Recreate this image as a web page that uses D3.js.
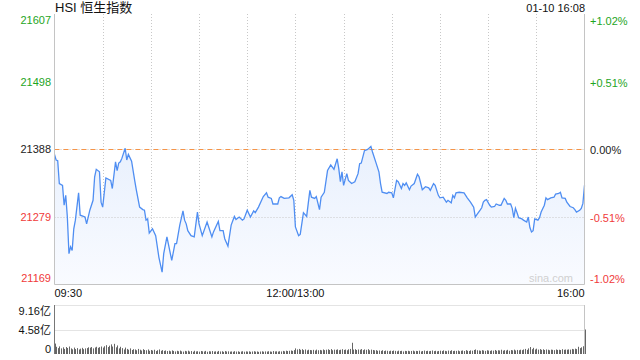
<!DOCTYPE html>
<html><head><meta charset="utf-8">
<script src="https://cdn.jsdelivr.net/npm/d3@7"></script>
<style>html,body{margin:0;padding:0;background:#fff;}svg{display:block;}</style>
</head><body><svg id="c" width="640" height="360"></svg>
<script>
const title = "HSI 恒生指数";
const stamp = "01-10 16:08";
const prevClose = 21388.34;
const priceTicks = ["21607","21498","21388","21279","21169"];
const pctTicks = ["+1.02%","+0.51%","0.00%","-0.51%","-1.02%"];
const pctSteps = [1.02, 0.51, 0, -0.51, -1.02];
const timeLabels = ["09:30","12:00/13:00","16:00"];
const timeLabelMinutes = [0, 150, 330];
const volTickLabels = ["9.16亿","4.58亿","0"];
const volTickValues = [9.16, 4.58, 0];
const minutes = [0,1,2,3,5,6,7,8,9,10,11,12,13,15,16,18,19,20,22,24,25,26,28,29,30,32,35,36,38,39,40,41,42,44,45,46,48,50,51,53,55,56,57,58,59,61,63,65,67,68,70,73,75,76,78,80,81,82,83,85,87,89,90,92,95,96,98,99,102,103,105,106,108,110,112,113,115,117,118,120,122,124,125,127,130,132,133,135,136,139,140,141,143,146,148,149,150,152,153,155,157,159,160,162,163,165,166,168,170,172,174,176,177,178,179,180,182,183,185,187,189,190,191,193,195,197,198,200,202,203,204,207,208,210,211,213,214,216,217,218,219,221,222,224,226,227,229,231,233,234,236,237,239,240,242,244,245,247,248,249,250,252,255,257,259,261,262,263,265,266,267,268,269,271,272,274,275,277,278,280,281,282,284,285,286,287,288,289,291,292,294,295,296,297,298,299,301,302,303,305,306,307,309,311,312,314,315,316,318,319,321,323,324,325,327,328,329,330];
const prices = [21380,21371,21370,21333,21330,21298,21314,21279,21220,21231,21225,21260,21274,21318,21282,21280,21279,21268,21290,21306,21344,21356,21352,21303,21295,21342,21338,21325,21368,21354,21366,21368,21374,21390,21371,21380,21369,21337,21322,21295,21291,21290,21274,21276,21253,21260,21249,21214,21190,21220,21247,21209,21236,21236,21266,21289,21274,21268,21257,21249,21247,21287,21268,21249,21271,21263,21247,21255,21272,21257,21257,21244,21232,21266,21280,21275,21279,21274,21276,21290,21279,21289,21286,21295,21312,21318,21311,21309,21300,21300,21310,21312,21309,21310,21315,21306,21263,21249,21251,21286,21280,21322,21311,21309,21312,21291,21311,21319,21354,21363,21356,21373,21357,21336,21352,21330,21349,21338,21333,21336,21349,21365,21366,21386,21388,21393,21384,21368,21352,21333,21319,21317,21319,21318,21310,21338,21336,21325,21333,21330,21334,21323,21329,21333,21348,21344,21323,21328,21326,21322,21333,21330,21314,21310,21311,21303,21306,21302,21314,21310,21318,21319,21318,21310,21303,21295,21279,21283,21290,21294,21303,21306,21307,21298,21295,21296,21300,21298,21298,21309,21306,21300,21300,21293,21278,21293,21286,21278,21276,21274,21271,21279,21262,21255,21257,21276,21274,21278,21287,21298,21310,21307,21310,21311,21316,21317,21319,21310,21309,21303,21296,21294,21291,21287,21290,21293,21301,21330];
const volumes = [1.95,1.35,1.10,1.42,1.05,1.25,0.95,1.30,1.12,1.40,
1.05,0.88,1.20,0.92,1.10,0.85,1.00,1.15,0.90,1.05,
1.10,1.25,1.18,1.30,1.05,1.22,1.35,1.15,1.28,1.40,
1.20,1.45,1.65,1.30,1.55,1.80,1.40,1.90,1.25,1.60,
1.05,1.35,1.10,0.85,1.20,0.95,0.80,1.05,0.75,0.90,
0.85,0.70,0.95,0.80,0.65,0.90,0.75,0.70,0.85,0.60,
0.75,0.65,0.80,0.55,0.70,0.85,0.60,0.72,0.58,0.66,
0.55,0.62,0.50,0.68,0.57,0.48,0.60,0.52,0.64,0.50,
0.45,0.58,0.50,0.62,0.47,0.55,0.42,0.60,0.48,0.52,
0.44,0.56,0.50,0.46,0.58,0.42,0.52,0.48,0.55,0.45,
0.50,0.43,0.57,0.47,0.52,0.40,0.55,0.46,0.50,0.44,
0.48,0.42,0.53,0.45,0.50,0.40,0.46,0.52,0.43,0.49,
0.45,0.50,0.41,0.47,0.52,0.44,0.48,0.40,0.46,0.51,
0.43,0.49,0.45,0.52,0.47,0.42,0.55,0.48,0.50,0.45,
0.52,0.47,0.58,0.50,0.62,0.55,0.60,0.66,0.58,0.72,
1.05,0.85,0.95,0.78,0.90,0.72,0.85,0.68,0.80,0.75,
0.70,0.78,0.65,0.82,0.70,0.76,0.68,0.85,0.72,0.80,
0.88,0.75,0.92,0.70,0.82,0.78,0.86,0.72,0.80,0.90,
0.76,0.84,0.70,0.88,0.95,2.10,0.82,0.90,0.75,0.85,
0.80,0.92,0.72,0.86,0.78,0.90,0.70,0.82,0.75,0.68,
0.72,0.60,0.66,0.58,0.70,0.55,0.64,0.60,0.52,0.62,
0.56,0.65,0.58,0.50,0.62,0.55,0.60,0.48,0.58,0.54,
0.60,0.52,0.57,0.63,0.50,0.58,0.55,0.62,0.48,0.56,
0.64,0.55,0.60,0.52,0.58,0.66,0.54,0.60,0.50,0.57,
0.62,0.55,0.68,0.58,0.52,0.64,0.57,0.70,0.55,0.60,
0.58,0.65,0.52,0.60,0.66,0.56,0.72,0.60,0.55,0.68,
0.62,0.75,0.85,0.70,0.66,0.60,0.72,0.65,0.58,0.70,
0.64,0.58,0.68,0.62,0.75,0.60,0.70,0.66,0.80,0.62,
0.72,0.65,0.78,0.60,0.74,0.68,0.82,0.66,0.76,0.70,
0.80,0.72,0.85,0.95,0.78,1.05,1.30,0.90,1.15,0.85,
1.00,0.82,0.92,0.78,0.88,0.75,0.85,0.80,0.70,0.82,
0.78,0.72,0.85,0.76,0.80,0.74,0.90,0.78,0.84,0.80,
0.86,0.82,0.95,0.88,1.00,0.92,1.35,1.10,1.25,1.45,
4.58];

const green = "#1ea51e", red = "#f03a3a", black = "#222";
const font = "'Liberation Sans', Arial, 'Noto Sans CJK SC', sans-serif";
const svg = d3.select("#c");
const L = 54.5, R = 584.5, T = 14, B = 284.5;
const x = d3.scaleLinear().domain([0, 330]).range([L, R]);
const y = d3.scaleLinear().domain([prevClose * (1 - 0.0102), prevClose * (1 + 0.0102)]).range([B, T]);
const vy = d3.scaleLinear().domain([0, 9.16]).range([354, 305]);

const defs = svg.append("defs");
const grad = defs.append("linearGradient").attr("id", "fg").attr("gradientUnits", "userSpaceOnUse")
  .attr("x1", 0).attr("y1", T).attr("x2", 0).attr("y2", B);
grad.append("stop").attr("offset", 0).attr("stop-color", "#d9e6fb");
grad.append("stop").attr("offset", 1).attr("stop-color", "#f9fbff");

const gridMins = d3.range(30, 330, 30);
svg.append("g").selectAll("line").data(gridMins).join("line")
  .attr("x1", d => Math.round(x(d)) + 0.5).attr("x2", d => Math.round(x(d)) + 0.5)
  .attr("y1", T).attr("y2", B)
  .attr("stroke", "#c8c8c8").attr("stroke-dasharray", "1,2");

const series = minutes.map((m, i) => ({m, p: prices[i]}));
svg.append("path").datum(series)
  .attr("d", d3.area().x(d => x(d.m)).y0(B).y1(d => y(d.p)))
  .attr("fill", "url(#fg)");

const hVals = [prevClose, prevClose * (1 - 0.0051)];
svg.append("g").selectAll("line").data(hVals).join("line")
  .attr("x1", L).attr("x2", R).attr("y1", d => Math.round(y(d)) + 0.5).attr("y2", d => Math.round(y(d)) + 0.5)
  .attr("stroke", "#c8c8c8").attr("stroke-dasharray", "1,2");
svg.append("line").attr("x1", L).attr("x2", R)
  .attr("y1", Math.round(y(prevClose)) + 0.5).attr("y2", Math.round(y(prevClose)) + 0.5)
  .attr("stroke", "#f59448").attr("stroke-width", 1).attr("stroke-dasharray", "5,4");

svg.append("path").datum(series)
  .attr("d", d3.line().x(d => x(d.m)).y(d => y(d.p)))
  .attr("fill", "none").attr("stroke", "#4f8ef2").attr("stroke-width", 1.3);

svg.append("line").attr("x1", L).attr("x2", L).attr("y1", T).attr("y2", B).attr("stroke", "#c4c4c4");
svg.append("line").attr("x1", R).attr("x2", R).attr("y1", T).attr("y2", B).attr("stroke", "#c4c4c4");
svg.append("line").attr("x1", L).attr("x2", R).attr("y1", B).attr("y2", B).attr("stroke", "#c4c4c4");

svg.append("text").attr("x", 573).attr("y", 282).attr("text-anchor", "end")
  .attr("font-family", font).attr("font-size", 11).attr("fill", "#d0d0d0").text("sina.com");

const colorFor = s => s > 0 ? green : (s < 0 ? red : black);
const labY = (s, i) => {
  const v = y(prevClose * (1 + s / 100));
  if (i === 0) return v + 10;
  if (i === pctSteps.length - 1) return v - 3;
  return v + 4;
};
svg.append("g").selectAll("text").data(priceTicks).join("text")
  .attr("x", 51).attr("y", (d, i) => labY(pctSteps[i], i)).attr("text-anchor", "end")
  .attr("font-family", font).attr("font-size", 11).attr("fill", (d, i) => colorFor(pctSteps[i])).text(d => d);
svg.append("g").selectAll("text").data(pctTicks).join("text")
  .attr("x", 590).attr("y", (d, i) => labY(pctSteps[i], i) + 1).attr("text-anchor", "start")
  .attr("font-family", font).attr("font-size", 11).attr("fill", (d, i) => colorFor(pctSteps[i])).text(d => d);

svg.append("text").attr("x", 55).attr("y", 12).attr("font-family", font).attr("font-size", 13).attr("fill", "#111").text(title);
svg.append("text").attr("x", 585).attr("y", 12).attr("text-anchor", "end").attr("font-family", font).attr("font-size", 11).attr("fill", "#111").text(stamp);

svg.append("g").selectAll("text").data(timeLabels).join("text")
  .attr("x", (d, i) => x(timeLabelMinutes[i]))
  .attr("y", 297)
  .attr("text-anchor", (d, i) => i === 0 ? "start" : (i === timeLabels.length - 1 ? "end" : "middle"))
  .attr("font-family", font).attr("font-size", 11).attr("fill", "#111").text(d => d);

svg.append("g").selectAll("line").data([9.16, 4.58]).join("line")
  .attr("x1", L).attr("x2", R).attr("y1", d => Math.round(vy(d)) + 0.5).attr("y2", d => Math.round(vy(d)) + 0.5)
  .attr("stroke", "#c8c8c8").attr("stroke-dasharray", "1,1");
svg.append("g").selectAll("rect").data(volumes).join("rect")
  .attr("x", (d, i) => Math.round(x(i)))
  .attr("width", 1)
  .attr("y", d => vy(d)).attr("height", d => vy(0) - vy(d))
  .attr("fill", "#666");
svg.append("line").attr("x1", L).attr("x2", L).attr("y1", vy(9.16)).attr("y2", vy(0)).attr("stroke", "#777");
svg.append("line").attr("x1", R).attr("x2", R).attr("y1", vy(9.16)).attr("y2", vy(0)).attr("stroke", "#c4c4c4");
svg.append("g").selectAll("text").data(volTickLabels).join("text")
  .attr("x", 51).attr("y", (d, i) => i === 0 ? vy(volTickValues[i]) + 10 : (i === 2 ? vy(0) - 1 : vy(volTickValues[i]) + 4))
  .attr("text-anchor", "end").attr("font-family", font).attr("font-size", 11).attr("fill", "#111").text(d => d);
</script></body></html>
